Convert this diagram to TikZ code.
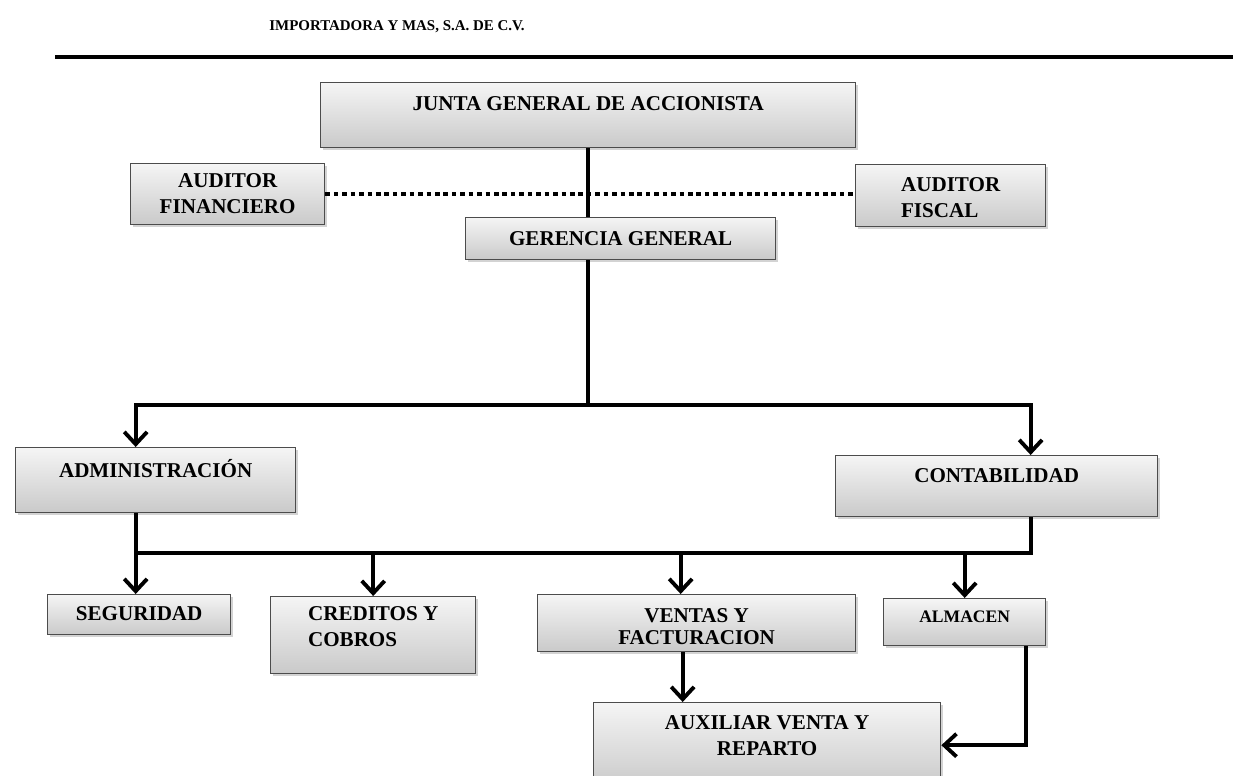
\documentclass[tikz,border=0pt]{standalone}
\usepackage{fontspec}
\setmainfont{Liberation Serif}
\usetikzlibrary{positioning, arrows.meta, shadows}

\newcommand{\letra}{\fontsize{12}{14.5}\selectfont\bfseries}

\begin{document}
\begin{tikzpicture}[x=0.02cm, y=-0.02cm,
	caja/.style={draw=black!70, line width=0.8pt, top color=gray!8, bottom color=gray!42,
		drop shadow={shadow xshift=1.5pt, shadow yshift=-1.5pt, opacity=0.35},
		anchor=north west, inner xsep=2pt, inner ysep=0pt, align=center, font=\letra},
	linea/.style={line width=2.2pt},
	flecha/.style={line width=2.2pt, -{Straight Barb[length=7pt, width=13pt]}},
	punteado/.style={line width=2.6pt, dash pattern=on 2.6pt off 2.2pt}]
				\useasboundingbox (0,0) rectangle (1233,775);
				\node[font=\fontsize{8.5}{10}\selectfont\bfseries] (titulo) at (397,27) {IMPORTADORA Y MAS, S.A. DE C.V.};
				\draw[line width=2.8pt] (55,57) -- (1233,57);
				\node[caja, minimum width=10.7cm, text height=0.56cm, text depth=0.74cm] (junta) at (320,82) {JUNTA GENERAL DE ACCIONISTA};
				\node[caja, minimum width=3.88cm, text height=0.99cm, text depth=0.23cm] (audfin) at (130,163) {AUDITOR\\FINANCIERO};
				\node[caja, minimum width=3.8cm, text height=1.05cm, text depth=0.19cm, align=left] (audfis) at (855,164) {AUDITOR\\FISCAL};
				\node[caja, minimum width=6.2cm, text height=0.56cm, text depth=0.28cm] (gerencia) at (465,217) {GERENCIA GENERAL};
				\node[caja, minimum width=5.6cm, text height=0.6cm, text depth=0.7cm] (admin) at (15,447) {ADMINISTRACIÓN};
				\node[caja, minimum width=6.44cm, text height=0.54cm, text depth=0.68cm] (contab) at (835,455) {CONTABILIDAD};
				\node[caja, minimum width=3.66cm, text height=0.52cm, text depth=0.28cm] (seguridad) at (47,594) {SEGURIDAD};
				\node[caja, minimum width=4.1cm, text height=0.99cm, text depth=0.55cm, align=left] (creditos) at (270,596) {CREDITOS Y\\COBROS};
				\node[caja, minimum width=6.36cm, text height=1.0cm, text depth=0.14cm] (ventas) at (537,594) {VENTAS Y\\[-2pt]FACTURACION};
				\node[caja, minimum width=3.24cm, text height=0.48cm, text depth=0.46cm, font=\fontsize{10}{12}\selectfont\bfseries] (almacen) at (883,598) {ALMACEN};
				\node[caja, minimum width=6.94cm, text height=1.05cm, text depth=0.65cm] (auxiliar) at (593,702) {AUXILIAR VENTA Y\\REPARTO};
				\coordinate (r1) at (junta.south |- 0,405);
				\coordinate (r2) at (135,553);
				\draw[linea] (junta.south) -- (junta.south |- gerencia.north);
				\draw[punteado] (audfin.east) -- (audfin.east -| audfis.west);
				\draw[linea] (junta.south |- gerencia.south) -- (r1);
				\draw[flecha] (r1) -| ([xshift=-0.4cm]admin.north);
				\draw[flecha] (r1) -| ([xshift=0.68cm]contab.north);
				\draw[flecha] ([xshift=-0.4cm]admin.south) -- ([xshift=-0.4cm]admin.south |- seguridad.north);
				\draw[linea] ([xshift=0.68cm]contab.south) |- (r2);
				\draw[flecha] (creditos.north |- r2) -- (creditos.north);
				\draw[flecha] ([xshift=-0.32cm]ventas.north |- r2) -- ([xshift=-0.32cm]ventas.north);
				\draw[flecha] (almacen.north |- r2) -- (almacen.north);
				\draw[flecha] ([xshift=-0.28cm]ventas.south) -- ([xshift=-0.28cm]ventas.south |- auxiliar.north);
				\draw[flecha] ([xshift=1.22cm]almacen.south) |- (auxiliar.east);
\end{tikzpicture}
\end{document}
